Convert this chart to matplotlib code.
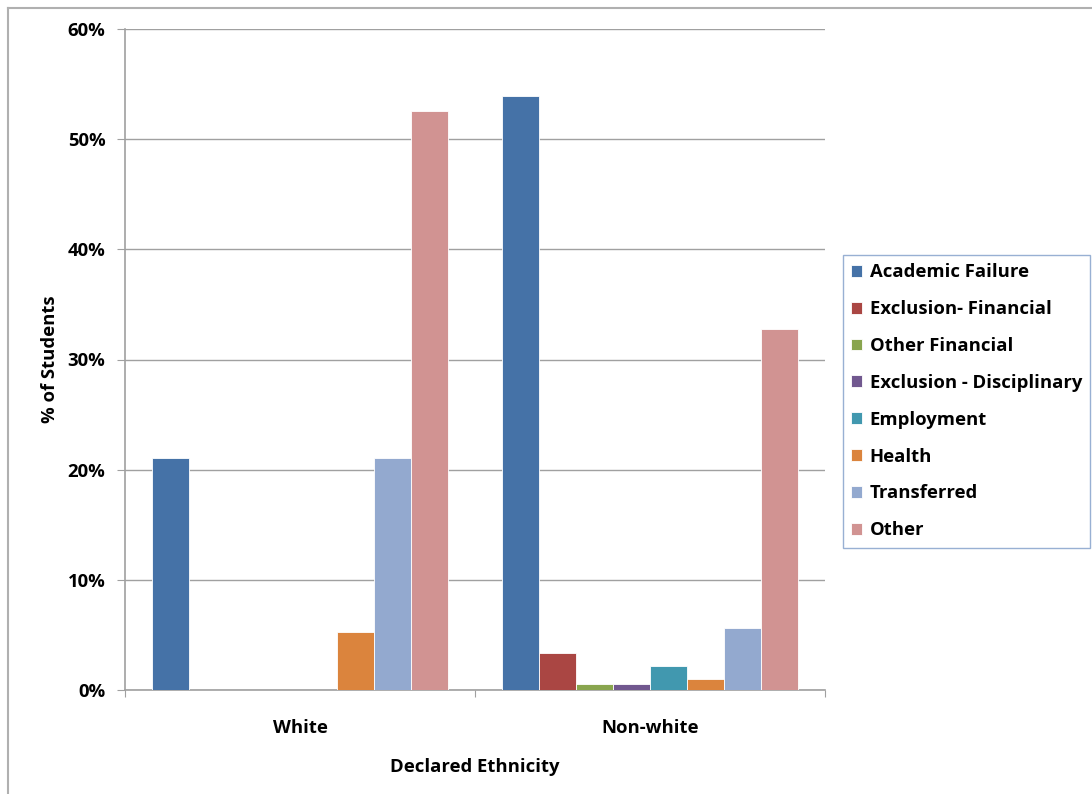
import matplotlib
matplotlib.use("Agg")
import matplotlib.pyplot as plt
import numpy as np
from matplotlib.lines import Line2D

categories = ["White", "Non-white"]
series = ["Academic Failure", "Exclusion- Financial", "Other Financial",
          "Exclusion - Disciplinary", "Employment", "Health", "Transferred", "Other"]
values = {
    "Academic Failure": [21.1, 53.9],
    "Exclusion- Financial": [0.0, 3.4],
    "Other Financial": [0.0, 0.55],
    "Exclusion - Disciplinary": [0.0, 0.55],
    "Employment": [0.0, 2.2],
    "Health": [5.3, 1.0],
    "Transferred": [21.1, 5.6],
    "Other": [52.6, 32.8],
}
colors = ["#4572A7", "#AA4643", "#89A54E", "#71588F", "#4198AF", "#DB843D", "#93A9CF", "#D19392"]
yticks = [0, 10, 20, 30, 40, 50, 60]
ytick_labels = ["0%", "10%", "20%", "30%", "40%", "50%", "60%"]

plt.rcParams['font.family'] = ['Open Sans', 'DejaVu Sans']
plt.rcParams['font.weight'] = 'bold'
FS = 13.3

W, H = 1092, 794
fig = plt.figure(figsize=(W / 100, H / 100), dpi=100)
ax = fig.add_axes([125 / W, 1 - 690 / H, 700 / W, (690 - 29) / H])

n = len(series)
bar_w = 36.9 / 350.0
x = np.arange(len(categories)) + 0.5
for i, (s, c) in enumerate(zip(series, colors)):
    offs = (i - (n - 1) / 2) * bar_w
    ax.bar(x + offs, values[s], width=bar_w, color=c, label=s,
           edgecolor='white', linewidth=0.6, zorder=3)

ax.set_xlim(0, len(categories))
ax.set_ylim(0, 60)
ax.set_yticks(yticks)
ax.set_yticklabels(ytick_labels, fontsize=FS, fontweight='bold')
ax.yaxis.grid(True, color='#A0A0A0', linewidth=1.0, zorder=0)
ax.set_axisbelow(True)

ax.set_xticks([0, 1, 2])
ax.set_xticklabels([])
ax.set_xticks(x, minor=True)
ax.set_xticklabels(categories, minor=True, fontsize=FS, fontweight='bold')
ax.tick_params(axis='x', which='minor', length=0, pad=21)
ax.tick_params(axis='x', which='major', length=5, color='#A0A0A0', direction='out')
ax.tick_params(axis='y', length=6, color='#A0A0A0', direction='out', pad=8)

for side in ['top', 'right']:
    ax.spines[side].set_visible(False)
for side in ['left', 'bottom']:
    ax.spines[side].set_color('#A0A0A0')
    ax.spines[side].set_linewidth(1.2)

ax.set_ylabel("% of Students", fontsize=FS, fontweight='bold', labelpad=6)
ax.set_xlabel("Declared Ethnicity", fontsize=FS, fontweight='bold', labelpad=15)

leg = fig.legend(loc='upper left', bbox_to_anchor=(843 / W, 1 - 255 / H),
                 frameon=True, fancybox=False,
                 prop={'weight': 'bold', 'size': FS, 'family': ['Open Sans', 'DejaVu Sans']},
                 handlelength=0.6, handleheight=0.6, handletextpad=0.4,
                 labelspacing=1.02, borderpad=0.45, borderaxespad=0)
leg.get_frame().set_edgecolor('#7F9DC8')
leg.get_frame().set_linewidth(1.0)

# outer chart-area frame (left and top edges visible)
fig.add_artist(Line2D([8 / W, 8 / W], [0, 1 - 8 / H], color='#B0B0B0', linewidth=1.5))
fig.add_artist(Line2D([8 / W, 1], [1 - 8 / H, 1 - 8 / H], color='#B0B0B0', linewidth=1.5))

fig.savefig("out.png", dpi=100)
